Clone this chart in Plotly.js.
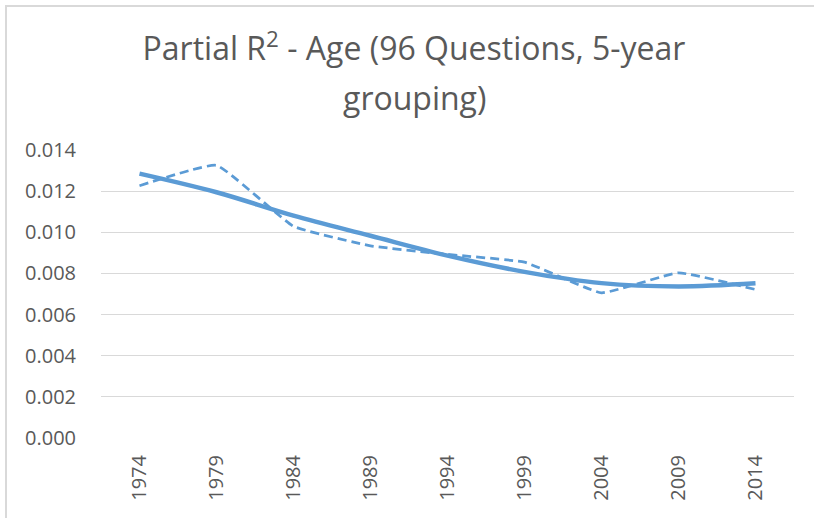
<!DOCTYPE html>
<html>
<head>
<meta charset="utf-8">
<script src="https://cdn.plot.ly/plotly-3.0.1.min.js"></script>
<style>
  html, body { margin: 0; padding: 0; background: #fff; }
  #wrap { position: relative; width: 814px; height: 518px; overflow: hidden; }
  #frame { position: absolute; left: 5px; top: 5px; width: 900px; height: 600px;
           border-left: 2px solid #d9d9d9; border-top: 2px solid #d9d9d9; box-sizing: border-box; pointer-events: none; z-index: 5; }
  #chart { position: absolute; left: 0; top: 0; width: 814px; height: 518px; }
</style>
</head>
<body>
<div id="wrap">
  <div id="chart"></div>
  <div id="frame"></div>
</div>
<script>
const years = ['1974', '1979', '1984', '1989', '1994', '1999', '2004', '2009', '2014'];
const partialR2 = [0.01228, 0.01327, 0.01030, 0.00935, 0.00893, 0.00855, 0.00706, 0.00803, 0.00722];
const trendR2 = [0.01287, 0.01196, 0.01082, 0.00984, 0.00887, 0.00808, 0.00753, 0.00737, 0.00752];
const yTicks = [0, 0.002, 0.004, 0.006, 0.008, 0.010, 0.012, 0.014];
const titleLine1 = 'Partial R<sup>2</sup> - Age (96 Questions, 5-year';
const titleLine2 = 'grouping)';

const blue = '#5B9BD5';
const grey = '#595959';

const traces = [
  {
    x: years, y: partialR2, type: 'scatter', mode: 'lines',
    line: { color: blue, width: 2.75, dash: '9px,5px', shape: 'spline', smoothing: 0.35 },
    hoverinfo: 'skip', showlegend: false
  },
  {
    x: years, y: trendR2, type: 'scatter', mode: 'lines',
    line: { color: blue, width: 4.5, shape: 'spline', smoothing: 1 },
    hoverinfo: 'skip', showlegend: false
  }
];

const layout = {
  width: 814, height: 518,
  margin: { l: 101, r: 20, t: 150, b: 80 },
  paper_bgcolor: '#ffffff', plot_bgcolor: '#ffffff',
  title: {
    text: titleLine1,
    font: { family: 'Open Sans', size: 32, color: grey },
    x: 414 / 814, xanchor: 'center', xref: 'container',
    y: 1 - 49 / 518, yanchor: 'middle', yref: 'container'
  },
  annotations: [{
    text: titleLine2, showarrow: false,
    font: { family: 'Open Sans', size: 32, color: grey },
    xref: 'paper', yref: 'paper',
    x: (414 - 101) / 693, xanchor: 'center',
    y: 1 + (150 - 97) / 288, yanchor: 'middle'
  }],
  xaxis: {
    type: 'category', range: [-0.5, 8.5],
    showgrid: false, zeroline: false, showline: false,
    ticks: '', tickangle: -90, ticklabelstandoff: 12,
    tickfont: { family: 'Open Sans', size: 20, color: grey },
    fixedrange: true
  },
  yaxis: {
    range: [-0.00002, 0.01402],
    tickvals: yTicks,
    ticktext: yTicks.map(v => v.toFixed(3)),
    showgrid: true, gridcolor: '#d9d9d9', gridwidth: 1.5,
    zeroline: false, showline: false, ticks: '', ticklabelstandoff: 24,
    tickfont: { family: 'Open Sans', size: 20, color: grey },
    fixedrange: true
  }
};

Plotly.newPlot('chart', traces, layout, { staticPlot: true, displayModeBar: false });
</script>
</body>
</html>
